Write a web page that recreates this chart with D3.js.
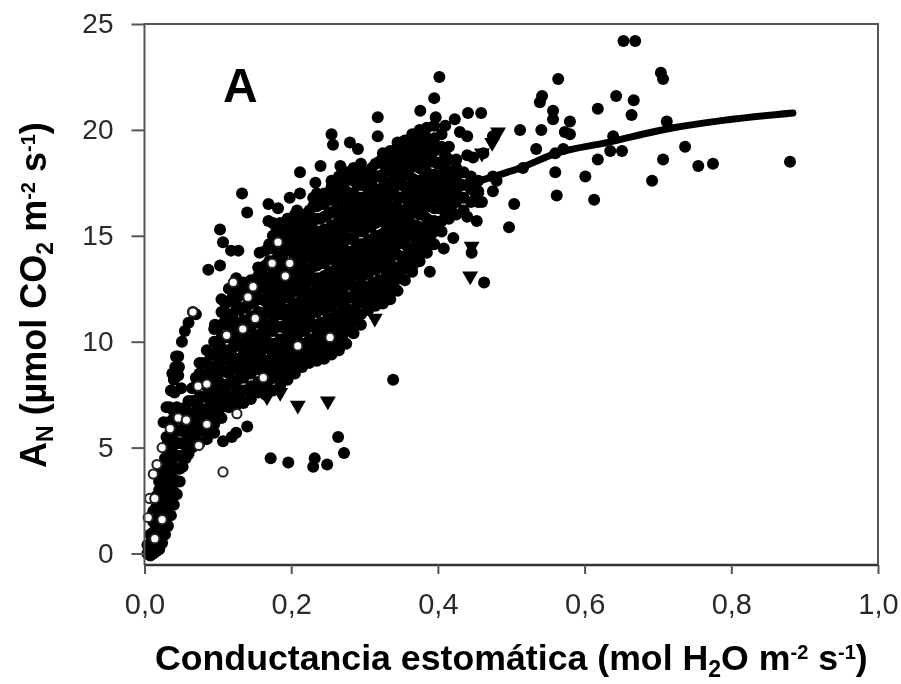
<!DOCTYPE html>
<html><head><meta charset="utf-8">
<script src="https://cdn.jsdelivr.net/npm/d3@7"></script>
<style>html,body{margin:0;padding:0;background:#fff}svg{display:block;filter:blur(0.7px)}text{font-family:"Liberation Sans",Arial,sans-serif}</style>
</head><body><div id="c"></div>
<script>
const xTicks = [0,0.2,0.4,0.6,0.8,1.0];
const yTicks = [0,5,10,15,20,25];
// dense cloud: x column + y readings
const cloudX = [.004,.008,.012,.016,.020,.024,.028,.032,.036,.040,.044,.048,.052,.056,.060,.065,.075,.085,.095,.105,.115,.125,.135,.145,.155,.165,.175,.185,.195,.205,.215,.225,.235,.245,.255,.265,.275,.285,.295,.305,.315,.325,.335,.345,.355,.365,.375,.385,.395,.405,.415,.425,.435,.445,.455];
const cloudY = [
[0,.4],[-.1,.4,.9],[0,.5,1,1.5,2],[.1,.6,1.1,1.6,2.2,2.7],[.2,.7,1.2,1.8,2.4,3,3.4],[.5,1,1.6,2.2,2.8,3.4,3.9],[.9,1.5,2.1,2.7,3.3,3.9,4.5],[1.3,1.9,2.5,3.1,3.7,4.3,4.9,5.3],[1.8,2.4,3,3.6,4.2,4.8,5.4,5.9],[2.3,2.9,3.5,4.1,4.7,5.3,5.9,6.4],[2.8,3.4,4,4.6,5.2,5.8,6.4,6.9],[3.4,4,4.6,5.2,5.8,6.4,6.8],[4.1,4.6,5.2,5.8,6.3,6.6],[4.5,5.1,5.7,6.3,6.9],[4.7,5.3,5.9,6.5,7.2],
[5,5.5,6.1,6.6,7.2,7.8],
[5.2,5.8,6.3,6.9,7.4,8,8.5,9],
[5.4,5.8,6.3,6.8,7.4,7.9,8.5,9,9.6],
[5.7,6.1,6.6,7.2,7.7,8.3,8.8,9.4,10,10.6],
[6.4,6.9,7.5,8,8.6,9.1,9.7,10.2,10.8,11.4,12],
[6.9,7.4,8,8.5,9.1,9.6,10.2,10.7,11.3,11.9,12.5],
[7,7.6,8.1,8.7,9.2,9.8,10.3,10.9,11.5,12,12.6,13],
[7.1,7.7,8.3,8.8,9.4,9.9,10.5,11,11.6,12.2,12.8],
[7.3,7.9,8.5,9,9.6,10.1,10.7,11.2,11.8,12.3,12.9],
[7.6,8.1,8.7,9.2,9.8,10.3,10.9,11.4,12,12.5,13.1,13.5],
[7.5,8,8.6,9.1,9.7,10.2,10.8,11.4,11.9,12.5,13,13.6,14.3],
[7.7,8.3,8.8,9.4,9.9,10.5,11,11.6,12.1,12.7,13.2,13.8,14.4,15,15.6],
[7.9,8.5,9,9.6,10.1,10.7,11.3,11.8,12.4,12.9,13.5,14,14.6,15.1,15.6],
[8.2,8.8,9.3,9.9,10.4,11,11.5,12.1,12.6,13.2,13.7,14.3,14.8,15.4,15.8],
[8.5,9.1,9.6,10.2,10.7,11.3,11.8,12.4,12.9,13.5,14,14.6,15.1,15.7,16],
[8.8,9.4,9.9,10.5,11,11.6,12.1,12.7,13.2,13.8,14.3,14.9,15.4,16],
[9,9.6,10.1,10.7,11.2,11.8,12.3,12.9,13.4,14,14.5,15.1,15.6,16.2],
[9.1,9.7,10.3,10.8,11.4,11.9,12.5,13,13.6,14.1,14.7,15.2,15.8,16.4,17],
[9.2,9.8,10.4,10.9,11.5,12,12.6,13.1,13.7,14.2,14.8,15.3,15.9,16.5,17],
[9.4,10,10.6,11.1,11.7,12.2,12.8,13.3,13.9,14.4,15,15.5,16.1,16.7,17.3,17.6],
[9.6,10.2,10.8,11.3,11.9,12.4,13,13.5,14.1,14.6,15.2,15.7,16.3,16.9,17.4,17.8],
[9.9,10.5,11,11.6,12.1,12.7,13.2,13.8,14.3,14.9,15.4,16,16.5,17.1,17.6,18],
[10.4,11,11.5,12.1,12.6,13.2,13.7,14.3,14.8,15.4,15.9,16.5,17,17.6,18.2],
[10.8,11.3,11.9,12.4,13,13.5,14.1,14.6,15.2,15.7,16.3,16.8,17.4,17.9,18.4],
[11.5,12.1,12.6,13.2,13.7,14.3,14.8,15.4,15.9,16.5,17,17.5,18],
[11.7,12.3,12.8,13.4,13.9,14.5,15,15.6,16.1,16.7,17.2,17.8,18.4],
[11.8,12.4,12.9,13.5,14,14.6,15.1,15.7,16.2,16.8,17.3,17.9,18.4,18.9],
[12,12.6,13.1,13.7,14.2,14.8,15.3,15.9,16.4,17,17.5,18.1,18.6,19],
[12.4,13,13.5,14.1,14.6,15.2,15.7,16.3,16.8,17.4,17.9,18.5,19,19.4],
[12.9,13.5,14,14.6,15.1,15.7,16.2,16.8,17.3,17.9,18.4,19,19.5],
[13.3,13.9,14.4,15,15.5,16.1,16.6,17.2,17.7,18.3,18.8,19.3,19.8],
[13.8,14.3,14.9,15.4,16,16.5,17.1,17.6,18.2,18.7,19.3,20],
[14.2,14.7,15.3,15.8,16.4,16.9,17.5,18,18.6,19.1,19.6,20.1],
[14.6,15.2,15.7,16.3,16.8,17.4,17.9,18.5,19,19.6,20.2],
[15.2,15.7,16.3,16.8,17.4,17.9,18.5,19.2,19.8],
[15.8,16.3,16.9,17.4,18,18.6,19.2],
[16,16.6,17.1,17.7,18.2,18.6],
[16.2,16.8,17.4,18],
[16.6,17.2,17.8],
[16.6,17.1,17.6]
];
// second layer of cloud readings, between the columns above
const innerX = [.07,.08,.09,.10,.11,.12,.13,.14,.15,.16,.17,.18,.19,.20,.21,.22,.23,.24,.25,.26,.27,.28,.29,.30,.31,.32,.33,.34,.35,.36,.37,.38,.39,.40,.41,.42];
const innerY = [
[5.6,6.4,7.1,7.9,8.3],[5.9,6.6,7.4,8.2,9],[6.3,7.1,7.9,8.7,9.4],[6.7,7.4,8.2,9,9.8,10.6],[7,7.8,8.6,9.4,10.2,11,11.8],[7.3,8.1,8.9,9.7,10.5,11.3,12.1],[7.5,8.3,9.1,9.9,10.7,11.5,12.3],[7.7,8.5,9.3,10.1,10.9,11.7,12.5],[7.9,8.7,9.5,10.3,11.1,11.9,12.7],[8,8.8,9.6,10.4,11.2,12,12.8,13.4],[8.2,9,9.8,10.6,11.4,12.2,13,13.8,14.6],[8.3,9.1,9.9,10.7,11.5,12.3,13.1,13.9,14.7,15.3],
[8.6,9.3,10,10.7,11.4,12.1,12.8,13.5,14.2,14.9,15.5],
[8.8,9.5,10.2,10.9,11.6,12.3,13,13.7,14.4,15.1,15.7],
[9,9.7,10.4,11.1,11.8,12.5,13.2,13.9,14.6,15.3,15.8],
[9.2,9.9,10.6,11.3,12,12.7,13.4,14.1,14.8,15.5,16],
[9.4,10.1,10.8,11.5,12.2,12.9,13.6,14.3,15,15.7,16.4],
[9.5,10.2,10.9,11.6,12.3,13,13.7,14.4,15.1,15.8,16.5],
[9.7,10.4,11.1,11.8,12.5,13.2,13.9,14.6,15.3,16,16.7],
[9.9,10.6,11.3,12,12.7,13.4,14.1,14.8,15.5,16.2,16.9,17.4],
[10.3,11,11.7,12.4,13.1,13.8,14.5,15.2,15.9,16.6,17.3],
[10.7,11.4,12.1,12.8,13.5,14.2,14.9,15.6,16.3,17,17.7],
[11.1,11.8,12.5,13.2,13.9,14.6,15.3,16,16.7,17.4,18],
[11.8,12.5,13.2,13.9,14.6,15.3,16,16.7,17.4,17.9],
[12,12.7,13.4,14.1,14.8,15.5,16.2,16.9,17.6,18.2],
[12.2,12.9,13.6,14.3,15,15.7,16.4,17.1,17.8,18.5],
[12.5,13.2,13.9,14.6,15.3,16,16.7,17.4,18.1,18.7],
[12.8,13.5,14.2,14.9,15.6,16.3,17,17.7,18.4,19],
[13.3,14,14.7,15.4,16.1,16.8,17.5,18.2,18.9],
[13.7,14.4,15.1,15.8,16.5,17.2,17.9,18.6,19.3],
[14.1,14.8,15.5,16.2,16.9,17.6,18.3,19,19.6],
[14.6,15.3,16,16.7,17.4,18.1,18.8,19.5],
[15,15.7,16.4,17.1,17.8,18.5,19.2],
[15.6,16.3,17,17.7,18.4,19.1],
[16.1,16.8,17.5,18.2,18.8],
[16.5,17.2,17.9]
];
// individually read filled circles
const filledPoints = [[.653,24.2],[.669,24.2],[.704,22.7],[.707,22.4],[.564,22.4],[.542,21.6],[.539,21.3],[.557,20.9],[.557,20.5],[.643,21.6],[.667,21.4],[.618,21],[.664,20.7],[.512,20],[.541,20],[.58,20.4],[.573,19.9],[.58,19.8],[.712,20.4],[.534,19.1],[.571,19.1],[.56,18.9],[.639,19.7],[.651,19],[.635,19],[.618,18.6],[.707,18.6],[.737,19.2],[.755,18.3],[.775,18.4],[.88,18.5],[.56,18],[.601,17.8],[.692,17.6],[.562,16.9],[.613,16.7],[.504,16.5],[.497,15.4],[.475,17.1],[.48,17.6],[.516,18.2],
[.133,17],[.14,16.1],[.103,15.3],[.107,14.7],[.118,14.3],[.128,14.3],[.103,13.6],[.087,13.4],[.157,14.2],[.169,16.5],[.182,16.3],[.169,15.7],[.198,16.8],[.212,17],[.208,16.2],[.221,15.9],[.23,16.8],[.233,17.5],[.212,18],[.24,18.3],[.267,18.3],[.255,19.8],[.257,19.3],[.28,19.4],[.291,19.1],[.318,20.6],[.318,19.7],[.324,18.6],[.376,20.9],[.395,21.5],[.402,22.5],[.397,20.6],[.423,20.5],[.441,20.8],[.459,20.8],[.44,19.7],[.475,19.7],[.44,18.8],[.462,18.9],[.448,18.7],[.475,17.8],[.389,13.3],[.408,14.4],[.446,14.2],[.463,12.8],[.44,15.9],[.453,15.7],[.421,14.9],[.46,16.6],[.385,19.6],[.41,20.2],[.43,19.9],
[.172,4.5],[.196,4.3],[.232,4.5],[.23,4.1],[.249,4.2],[.272,4.75],[.264,5.5],[.339,8.2],[.14,6],[.119,5.5],[.107,5.3],[.125,5.7],
[.026,6.2],[.03,6.9],[.034,6.9],[.038,6.8],[.036,7.7],[.04,8.2],[.042,8.8],[.046,9.3],[.046,8.4],[.05,7.8],[.051,10],[.055,10.5],[.06,10.9],[.066,11.4],[.07,11.3],[.096,10.8],[.03,5.5],[.033,6.2],[.314,11.8],[.33,12],[.038,8.5],[.043,9.3],[.047,8.8],[.041,7.6]];
// inverted triangles
const trianglePoints = [[.209,7],[.25,7.2],[.314,11.1],[.444,13.1],[.446,14.5],[.482,19.9],[.474,19.4],[.339,12.4],[.366,13.5],[.453,16.8],[.167,7.4],[.185,7.6],[.278,10.9],[.46,18.9],[.43,17.4]];
// open circles
const openPoints = [[.107,3.85],[.126,6.6],[.066,11.4],[.112,10.3],[.134,10.6],[.151,11.1],[.073,7.9],[.085,8],[.046,6.4],[.057,6.3],[.085,6.1],[.035,5.9],[.074,5.1],[.024,5],[.017,4.2],[.012,3.75],[.007,2.6],[.005,1.7],[.014,2.6],[.024,1.6],[.014,.7],[.253,10.2],[.209,9.8],[.162,8.3],[.192,13.1],[.198,13.7],[.174,13.7],[.182,14.7],[.121,12.8],[.141,12.1],[.148,12.6]];
// fitted curve
const curveX = [.2,.3,.4,.448,.512,.562,.63,.721,.789,.884];
const curveY = [12.5,15.3,16.9,17.5,18.2,18.9,19.4,20.1,20.45,20.8];

const W=901,H=684;
const x=d3.scaleLinear().domain([0,1]).range([144.5,878]);
const y=d3.scaleLinear().domain([0,25]).range([553.5,24]);
const yBottom=565;
const svg=d3.select('#c').append('svg').attr('width',W).attr('height',H);
const axisCol='#555';

const cloud=[];
cloudX.forEach((cx,i)=>cloudY[i].forEach(v=>cloud.push([cx,v])));
innerX.forEach((cx,i)=>innerY[i].forEach(v=>cloud.push([cx,v])));
const R=6;
svg.append('g').selectAll('circle').data(cloud.concat(filledPoints)).join('circle')
 .attr('cx',d=>x(d[0])).attr('cy',d=>y(d[1])).attr('r',R).attr('fill','#000');
const tri=d3.symbol().type(d3.symbolTriangle).size(110);
svg.append('g').selectAll('path').data(trianglePoints).join('path')
 .attr('d',tri).attr('transform',d=>`translate(${x(d[0])},${y(d[1])}) rotate(180)`).attr('fill','#000');
svg.append('g').selectAll('circle').data(openPoints).join('circle')
 .attr('cx',d=>x(d[0])).attr('cy',d=>y(d[1])).attr('r',4.6).attr('fill','#fff').attr('stroke','#222').attr('stroke-width',2);
const line=d3.line().x(i=>x(curveX[i])).y(i=>y(curveY[i])).curve(d3.curveMonotoneX);
svg.append('path').attr('d',line(d3.range(curveX.length))).attr('fill','none').attr('stroke','#000').attr('stroke-width',7).attr('stroke-linecap','round');

// frame
const frame=svg.append('g').attr('stroke',axisCol).attr('stroke-width',2).attr('fill','none');
frame.append('path').attr('d',`M144.5,${yBottom}V24H878V${yBottom}`);
svg.append('path').attr('d',`M144.5,${yBottom}H878`).attr('stroke','#333').attr('stroke-width',2.4).attr('fill','none');

// axes via d3
const fmt=d=>d3.format('.1f')(d).replace('.',',');
const gx=svg.append('g').attr('transform',`translate(0,${yBottom})`).call(d3.axisBottom(x).tickValues(xTicks).tickFormat(fmt).tickSize(9).tickPadding(19));
const gy=svg.append('g').attr('transform','translate(144.5,0)').call(d3.axisLeft(y).tickValues(yTicks).tickSize(13).tickPadding(18));
[gx,gy].forEach(g=>{g.select('.domain').remove();g.selectAll('line').attr('stroke',axisCol).attr('stroke-width',2);});
gx.selectAll('text').attr('fill','#2a2a2a').style('font-size','29px');
gy.selectAll('text').attr('fill','#2a2a2a').style('font-size','28px');

// titles
const xt=svg.append('text').attr('x',155).attr('y',670).attr('fill','#000').style('font-weight','bold').style('font-size','35.7px');
[['Conductancia estomática (mol H',0,35.7],['2',7,23],['O m',-7,35.7],['-2',-11,20],[' s',11,35.7],['-1',-11,20],[')',11,35.7]].forEach(p=>xt.append('tspan').attr('dy',p[1]).style('font-size',p[2]+'px').text(p[0]));
const yt=svg.append('text').attr('transform','translate(46,468) rotate(-90)').attr('fill','#000').style('font-weight','bold').style('font-size','36px');
[['A',0,36],['N',7,23],[' (µmol CO',-7,36],['2',7,23],[' m',-7,36],['-2',-11,20],[' s',11,36],['-1',-11,20],[')',11,36]].forEach(p=>yt.append('tspan').attr('dy',p[1]).style('font-size',p[2]+'px').text(p[0]));
svg.append('text').attr('x',223).attr('y',102).attr('fill','#000').style('font-weight','bold').style('font-size','48px').text('A');
</script></body></html>
